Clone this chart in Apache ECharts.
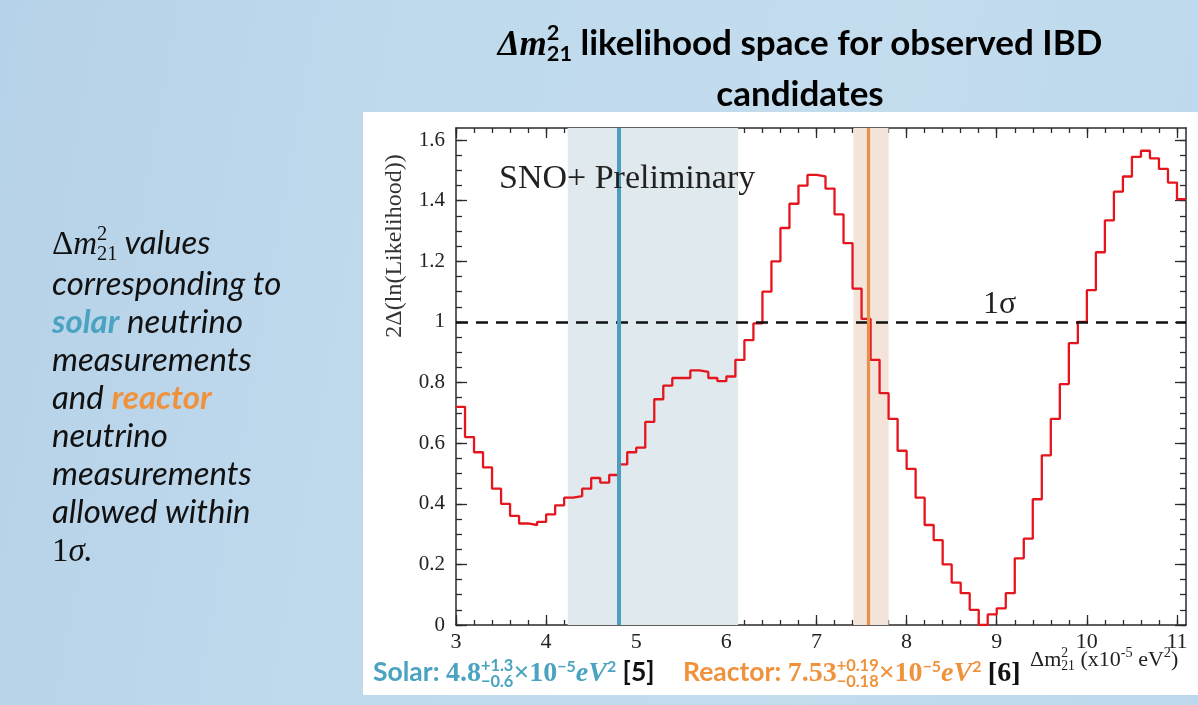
<!DOCTYPE html>
<html>
<head>
<meta charset="utf-8">
<script src="https://cdn.jsdelivr.net/npm/echarts@6/dist/echarts.min.js"></script>
<style>
  html, body { margin:0; padding:0; }
  #slide {
    position:absolute; left:0; top:0; width:1198px; height:705px; overflow:hidden;
    background: linear-gradient(100deg, #b6d2e8 0%, #c0daed 35%, #c3dcee 70%, #bcd8ec 100%);
  }
  #box { position:absolute; left:363px; top:112px; width:835px; height:583px; background:#fff; }
  #chart { position:absolute; left:0; top:0; width:1198px; height:705px; }
  .txt { position:absolute; white-space:nowrap; }
  #title {
    left:400px; width:800px; top:17px; text-align:center;
    font:bold 35px Lato, "Open Sans", sans-serif; line-height:48px; color:#000;
  }
  #side {
    left:52px; top:222px; font:italic 33px Lato, "Open Sans", sans-serif; line-height:38px; color:#111;
  }
  .mth { font-family:"Liberation Serif", serif; }
  .ss { display:inline-block; vertical-align:-0.28em; font-size:0.62em; line-height:0.95; text-align:left; font-style:normal; }
  .ss span { display:block; }
  .sol { color:#4aa3c0; }
  .rea { color:#f0923c; }
  .cap { top:654px; font:bold 26.5px Lato, sans-serif; line-height:34px; }
  .cap .num { font-family:"Liberation Serif", serif; font-size:28px; }
  .cap .ev { font-family:"Liberation Serif", serif; font-style:italic; font-size:28px; }
  .cap sup { font-size:0.6em; vertical-align:0.55em; line-height:0; }
  .cap .ref { color:#111; }
  .cap .ss { font-size:0.62em; vertical-align:-0.35em; line-height:0.95; }
  #xname { left:1030px; top:646px; font:22px "Liberation Serif", serif; color:#222; }
  #xname sup { font-size:0.65em; vertical-align:0.6em; line-height:0; }
</style>
</head>
<body>
<div id="slide">
  <div id="box"></div>
  <div id="chart"></div>
  <div id="title" class="txt"><span class="mth"><b><i>Δm</i></b></span><span class="ss"><span>2</span><span>21</span></span> likelihood space for observed IBD<br>candidates</div>
  <div id="side" class="txt">
    <div><span class="mth" style="font-style:normal">Δ<i>m</i></span><span class="ss mth"><span>2</span><span>21</span></span> values</div>
    <div>corresponding to</div>
    <div><b class="sol">solar</b> neutrino</div>
    <div>measurements</div>
    <div>and <b class="rea">reactor</b></div>
    <div>neutrino</div>
    <div>measurements</div>
    <div>allowed within</div>
    <div><span class="mth" style="font-style:normal">1<i>σ</i></span>.</div>
  </div>
  <div class="txt cap sol" style="left:373px">Solar: <span class="num">4.8</span><span class="ss"><span>+1.3</span><span>−0.6</span></span><span class="num">×10</span><sup>−5</sup><span class="ev">eV</span><sup>2</sup> <span class="ref">[5]</span></div>
  <div class="txt cap rea" style="left:683px">Reactor: <span class="num">7.53</span><span class="ss"><span>+0.19</span><span>−0.18</span></span><span class="num">×10</span><sup>−5</sup><span class="ev">eV</span><sup>2</sup> <span class="ref num">[6]</span></div>
  <div id="xname" class="txt">Δm<span class="ss"><span>2</span><span>21</span></span> (x10<sup>-5</sup> eV<sup>2</sup>)</div>
</div>

<script>
// histogram bins (left edges, width 0.1) and 2Δln(L) values
const binLeft = [3.0, 3.1, 3.2, 3.3, 3.4, 3.5, 3.6, 3.7, 3.8, 3.9,
                 4.0, 4.1, 4.2, 4.3, 4.4, 4.5, 4.6, 4.7, 4.8, 4.9,
                 5.0, 5.1, 5.2, 5.3, 5.4, 5.5, 5.6, 5.7, 5.8, 5.9,
                 6.0, 6.1, 6.2, 6.3, 6.4, 6.5, 6.6, 6.7, 6.8, 6.9,
                 7.0, 7.1, 7.2, 7.3, 7.4, 7.5, 7.6, 7.7, 7.8, 7.9,
                 8.0, 8.1, 8.2, 8.3, 8.4, 8.5, 8.6, 8.7, 8.8, 8.9,
                 9.0, 9.1, 9.2, 9.3, 9.4, 9.5, 9.6, 9.7, 9.8, 9.9,
                 10.0, 10.1, 10.2, 10.3, 10.4, 10.5, 10.6, 10.7, 10.8, 10.9,
                 11.0, 11.1];
const likelihood = [0.72, 0.62, 0.57, 0.52, 0.45, 0.40, 0.36, 0.335, 0.33, 0.34,
                    0.365, 0.395, 0.42, 0.425, 0.45, 0.485, 0.47, 0.495, 0.53, 0.57,
                    0.585, 0.67, 0.745, 0.79, 0.815, 0.815, 0.84, 0.835, 0.815, 0.805,
                    0.82, 0.875, 0.94, 0.995, 1.10, 1.20, 1.31, 1.39, 1.45, 1.485,
                    1.48, 1.44, 1.355, 1.26, 1.11, 1.01, 0.875, 0.765, 0.68, 0.575,
                    0.515, 0.42, 0.33, 0.28, 0.20, 0.14, 0.105, 0.05, 0.0, 0.035,
                    0.055, 0.105, 0.22, 0.285, 0.415, 0.56, 0.68, 0.795, 0.93, 1.0,
                    1.105, 1.23, 1.335, 1.43, 1.48, 1.545, 1.565, 1.54, 1.505, 1.46,
                    1.405];

const solarBest = 4.81, solarBand = [4.24, 6.13];
const reactorBest = 7.57, reactorBand = [7.41, 7.80];
const oneSigma = 1;

const xTicks = [3, 4, 5, 6, 7, 8, 9, 10, 11];
const yTicks = [0, 0.2, 0.4, 0.6, 0.8, 1, 1.2, 1.4, 1.6];
const xMin = 3, xMax = 11.1, yMin = 0, yMax = 1.64;

// minor ticks: 0.2 on x, 0.05 on y
let xMinor = [], yMinor = [];
for (let i = 0; i <= 40; i++) xMinor.push(+(3 + i * 0.2).toFixed(1));
for (let i = 0; i <= 32; i++) yMinor.push(+(i * 0.05).toFixed(2));

// step data: last bin closes at its right edge
let histData = binLeft.map((x, i) => [x, likelihood[Math.min(i, likelihood.length - 1)]]);

const ink = '#2a2a2a';
function xAxisDef(pos, ticks, len, labels){
  return {
    type: 'value', position: pos, min: xMin, max: xMax,
    axisLine: { show: len > 6, onZero: false, lineStyle: { color: ink, width: 1.5 } },
    axisTick: { show: true, inside: true, length: len, customValues: ticks, lineStyle: { color: ink, width: 1.3 } },
    axisLabel: labels ? { show: true, customValues: xTicks, margin: 6, color: '#222',
                          fontFamily: 'Liberation Serif', fontSize: 22 } : { show: false },
    splitLine: { show: false }
  };
}
function yAxisDef(pos, ticks, len, labels){
  return {
    type: 'value', position: pos, min: yMin, max: yMax,
    axisLine: { show: len > 6, onZero: false, lineStyle: { color: ink, width: 1.5 } },
    axisTick: { show: true, inside: true, length: len, customValues: ticks, lineStyle: { color: ink, width: 1.3 } },
    axisLabel: labels ? { show: true, customValues: yTicks, margin: 11, color: '#222',
                          fontFamily: 'Liberation Serif', fontSize: 21 } : { show: false },
    splitLine: { show: false }
  };
}

let myChart = echarts.init(document.getElementById('chart'));

option = {
  animation: false,
  backgroundColor: 'transparent',
  grid: { left: 456, right: 12, top: 128, bottom: 80, containLabel: false },
  xAxis: [
    xAxisDef('bottom', xTicks, 10, true),
    xAxisDef('top', xTicks, 10, false),
    xAxisDef('bottom', xMinor, 5, false),
    xAxisDef('top', xMinor, 5, false)
  ],
  yAxis: [
    yAxisDef('left', yTicks, 11, true),
    yAxisDef('right', yTicks, 11, false),
    yAxisDef('left', yMinor, 6, false),
    yAxisDef('right', yMinor, 6, false)
  ],
  graphic: [
    { type: 'text', left: 499, top: 162, z: 10,
      style: { text: 'SNO+ Preliminary', font: '34px "Liberation Serif"', fill: '#222' } },
    { type: 'text', left: 983, top: 289, z: 10,
      style: { text: '1σ', font: '32px "Liberation Serif"', fill: '#222' } },
    { type: 'text', x: 395, y: 246, rotation: Math.PI / 2, z: 10,
      style: { text: '2Δ(ln(Likelihood))', font: '24px "Liberation Serif"', fill: '#333',
               align: 'center', verticalAlign: 'middle' } }
  ],
  series: [
    {
      name: 'bands', type: 'line', data: [], z: 1,
      markArea: {
        silent: true,
        data: [
          [{ xAxis: solarBand[0], itemStyle: { color: '#e0e9ee' } }, { xAxis: solarBand[1] }],
          [{ xAxis: reactorBand[0], itemStyle: { color: '#f3e3d8' } }, { xAxis: reactorBand[1] }]
        ]
      }
    },
    {
      name: 'sigma', type: 'line', data: [], z: 2,
      markLine: {
        silent: true, symbol: ['none', 'none'], label: { show: false },
        lineStyle: { color: '#111', width: 2.6, type: [12, 8] },
        data: [{ yAxis: oneSigma }]
      }
    },
    {
      name: '2Δln(L)', type: 'line', step: 'end', z: 3,
      showSymbol: false, symbol: 'none',
      lineStyle: { color: '#e4151c', width: 2.3 },
      data: histData
    },
    {
      name: 'measurements', type: 'line', data: [], z: 4,
      markLine: {
        silent: true, symbol: ['none', 'none'], label: { show: false },
        data: [
          { xAxis: solarBest, lineStyle: { color: '#4b9ebd', width: 4, type: 'solid' } },
          { xAxis: reactorBest, lineStyle: { color: '#e6924d', width: 3.2, type: 'solid' } }
        ]
      }
    }
  ]
};
myChart.setOption(option);
</script>
</body>
</html>
